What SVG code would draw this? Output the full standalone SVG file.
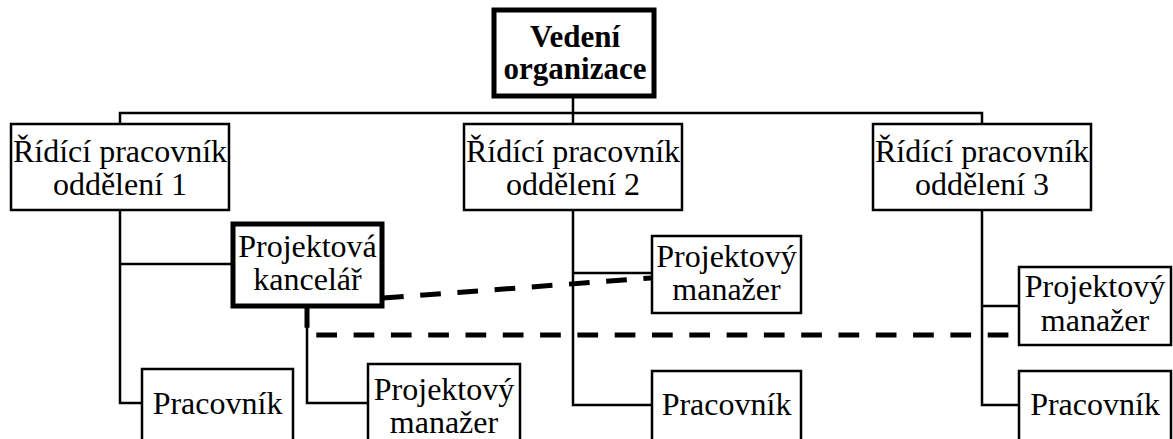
<svg xmlns="http://www.w3.org/2000/svg" width="1173" height="439" viewBox="0 0 1173 439">
  <style>
    .box { fill: #fff; stroke: #000; stroke-width: 2.5; }
    .box-strong { fill: #fff; stroke: #000; stroke-width: 5; }
    text { font-family: "Liberation Serif", "DejaVu Serif", serif; fill: #000; text-anchor: middle; }
    .label { font-size: 32px; }
    .label-bold { font-size: 31px; font-weight: bold; }
    .link { fill: none; stroke: #000; stroke-width: 2.5; }
    .dash { fill: none; stroke: #000; stroke-width: 5; stroke-dasharray: 20.7 16.6; }
  </style>

  <rect width="1173" height="439" fill="#fff"/>

  <!-- connectors -->
  <g id="connectors">
    <!-- management to department heads -->
    <path class="link" d="M573,97 V113 M120,123 V113 H982 V123 M573,113 V124"/>
    <!-- department 1 -->
    <path class="link" d="M120,210 V403 H142 M120,264 H232"/>
    <!-- project office to its manager -->
    <path class="link" d="M307,307 V403 H368"/>
    <!-- department 2 -->
    <path class="link" d="M573,211 V405 H652 M573,273 H651"/>
    <!-- department 3 -->
    <path class="link" d="M982,210 V405 H1019 M982,306 H1019"/>
    <!-- dashed coordination links -->
    <path class="dash" d="M383,298 L651,278"/>
    <path class="dash" d="M307,307 V335 H1019"/>
  </g>

  <g id="vedeni">
    <rect class="box-strong" x="494" y="10" width="160" height="86"/>
    <text class="label-bold" x="575" y="47">Vedení</text>
    <text class="label-bold" x="575" y="79">organizace</text>
  </g>

  <g id="ridici-1">
    <rect class="box" x="11" y="124" width="218" height="86"/>
    <text class="label" x="120" y="162">Řídící pracovník</text>
    <text class="label" x="120" y="195">oddělení 1</text>
  </g>

  <g id="ridici-2">
    <rect class="box" x="464" y="124" width="218" height="86"/>
    <text class="label" x="573" y="162">Řídící pracovník</text>
    <text class="label" x="573" y="195">oddělení 2</text>
  </g>

  <g id="ridici-3">
    <rect class="box" x="873" y="124" width="218" height="86"/>
    <text class="label" x="982" y="162">Řídící pracovník</text>
    <text class="label" x="982" y="195">oddělení 3</text>
  </g>

  <g id="projektova-kancelar">
    <rect class="box-strong" x="233" y="224" width="149" height="82"/>
    <text class="label" x="307.5" y="257">Projektová</text>
    <text class="label" x="307.5" y="290">kancelář</text>
  </g>

  <g id="manazer-2">
    <rect class="box" x="652" y="236" width="149" height="77"/>
    <text class="label" x="726.5" y="267">Projektový</text>
    <text class="label" x="726.5" y="300">manažer</text>
  </g>

  <g id="manazer-3">
    <rect class="box" x="1019" y="267" width="152" height="78"/>
    <text class="label" x="1095" y="297">Projektový</text>
    <text class="label" x="1095" y="331">manažer</text>
  </g>

  <g id="manazer-1">
    <rect class="box" x="368" y="364" width="152" height="90"/>
    <text class="label" x="444" y="400">Projektový</text>
    <text class="label" x="444" y="433">manažer</text>
  </g>

  <g id="pracovnik-1">
    <rect class="box" x="142" y="369" width="151" height="85"/>
    <text class="label" x="217.5" y="414">Pracovník</text>
  </g>

  <g id="pracovnik-2">
    <rect class="box" x="652" y="371" width="149" height="85"/>
    <text class="label" x="726.5" y="415">Pracovník</text>
  </g>

  <g id="pracovnik-3">
    <rect class="box" x="1019" y="371" width="152" height="85"/>
    <text class="label" x="1095" y="415">Pracovník</text>
  </g>
</svg>
